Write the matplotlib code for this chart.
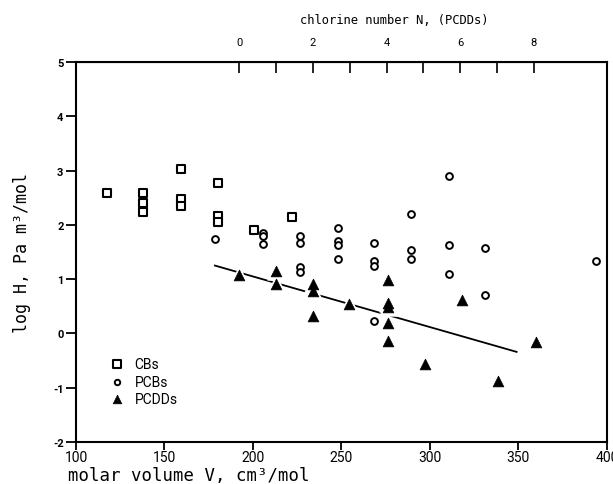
import matplotlib
matplotlib.use("Agg")
import matplotlib.pyplot as plt
import numpy as np

plt.rcParams["axes.unicode_minus"] = False

# ---- data ----
cb_v = [117.3, 138.0, 138.0, 138.0, 159.3, 159.3, 159.3, 180.4, 180.4, 180.4, 200.7, 221.9]
cb_logh = [2.58, 2.58, 2.41, 2.24, 3.03, 2.48, 2.35, 2.78, 2.17, 2.06, 1.90, 2.15]

pcb_v = [178.5, 205.8, 205.8, 205.8, 226.7, 226.7, 226.7, 226.7,
         247.8, 247.8, 247.8, 247.8, 268.4, 268.4, 268.4, 268.4,
         289.4, 289.4, 289.4, 310.6, 310.6, 310.6, 331.1, 331.1, 393.6]
pcb_logh = [1.74, 1.85, 1.80, 1.64, 1.79, 1.66, 1.23, 1.14,
            1.95, 1.71, 1.63, 1.37, 1.66, 1.33, 1.24, 0.23,
            2.20, 1.54, 1.38, 2.90, 1.62, 1.10, 1.58, 0.71, 1.34]

pcdd_v = [192.3, 213.0, 213.0, 234.1, 234.1, 234.1, 254.5,
          276.4, 276.4, 276.4, 276.4, 276.4, 297.0, 317.9, 338.6, 359.7]
pcdd_logh = [1.08, 1.15, 0.91, 0.91, 0.79, 0.32, 0.55,
             0.99, 0.56, 0.49, 0.20, -0.14, -0.56, 0.61, -0.88, -0.15]

fit_v = [178.5, 349.0]
fit_logh = [1.25, -0.34]

x_ticks = [100, 150, 200, 250, 300, 350, 400]
y_ticks = [-2, -1, 0, 1, 2, 3, 4, 5]
top_ticks = [0, 2, 4, 6, 8]
top_minor = [1, 3, 5, 7]
n0_v = 192.3      # molar volume at N = 0 (PCDDs)
dv_per_cl = 20.8  # molar volume increment per chlorine

series_labels = ["CBs", "PCBs", "PCDDs"]

# ---- figure ----
tick_font = ["Roboto", "DejaVu Sans"]
mono = ["DejaVu Sans Mono"]

fig = plt.figure(figsize=(6.13, 4.85), dpi=100)
ax = fig.add_axes([0.124, 0.0866, 0.866, 0.7835])

ax.plot(fit_v, fit_logh, color="black", lw=1.3, zorder=2)

# white halo under triangles (the line is interrupted around them)
ax.scatter(pcdd_v, pcdd_logh, marker="^", s=150, facecolor="white",
           edgecolor="white", zorder=3)
h_cb = ax.scatter(cb_v, cb_logh, marker="s", s=40, facecolor="white",
                  edgecolor="black", linewidths=1.5, zorder=4)
h_pcb = ax.scatter(pcb_v, pcb_logh, marker="o", s=24, facecolor="white",
                   edgecolor="black", linewidths=1.4, zorder=4)
h_pcdd = ax.scatter(pcdd_v, pcdd_logh, marker="^", s=60, facecolor="black",
                    edgecolor="black", linewidths=0.5, zorder=5)

ax.set_xlim(100, 400)
ax.set_ylim(-2, 5)
ax.set_xticks(x_ticks)
ax.set_yticks(y_ticks)
for s in ax.spines.values():
    s.set_linewidth(1.5)
ax.tick_params(axis="x", direction="out", length=6, width=1.3, labelsize=10, pad=0)
ax.tick_params(axis="y", direction="out", length=7, width=1.3, labelsize=8, pad=2)
for lab in ax.get_xticklabels() + ax.get_yticklabels():
    lab.set_family(tick_font)
for lab in ax.get_yticklabels():
    lab.set_fontweight("bold")

fig.text(68 / 613, 1 - 476 / 485, "molar volume V, cm³/mol", family=mono,
         fontsize=12.5, ha="left", va="center")
ax.set_ylabel("log H, Pa m³/mol", family=mono, fontsize=12)
ax.yaxis.set_label_coords(-0.085, 0.5)

# top axis: chlorine number of PCDDs
sec = ax.secondary_xaxis("top",
                         functions=(lambda v: (v - n0_v) / dv_per_cl,
                                    lambda n: n0_v + n * dv_per_cl))
sec.set_xticks(top_ticks)
sec.set_xticks(top_minor, minor=True)
sec.tick_params(which="both", direction="in", length=8, width=1.2,
                labelsize=8, pad=11)
for lab in sec.get_xticklabels():
    lab.set_family(tick_font)
fig.text(394 / 613, 1 - 20 / 485, "chlorine number N, (PCDDs)", family=mono,
         fontsize=8.7, ha="center", va="center")

leg = ax.legend([h_cb, h_pcb, h_pcdd], series_labels, loc="lower left",
                bbox_to_anchor=(0.04, 0.08), frameon=False, handletextpad=0.3,
                labelspacing=0.25, markerscale=0.8, borderaxespad=0,
                prop={"family": tick_font, "size": 10})

fig.savefig("out.png", dpi=100)
